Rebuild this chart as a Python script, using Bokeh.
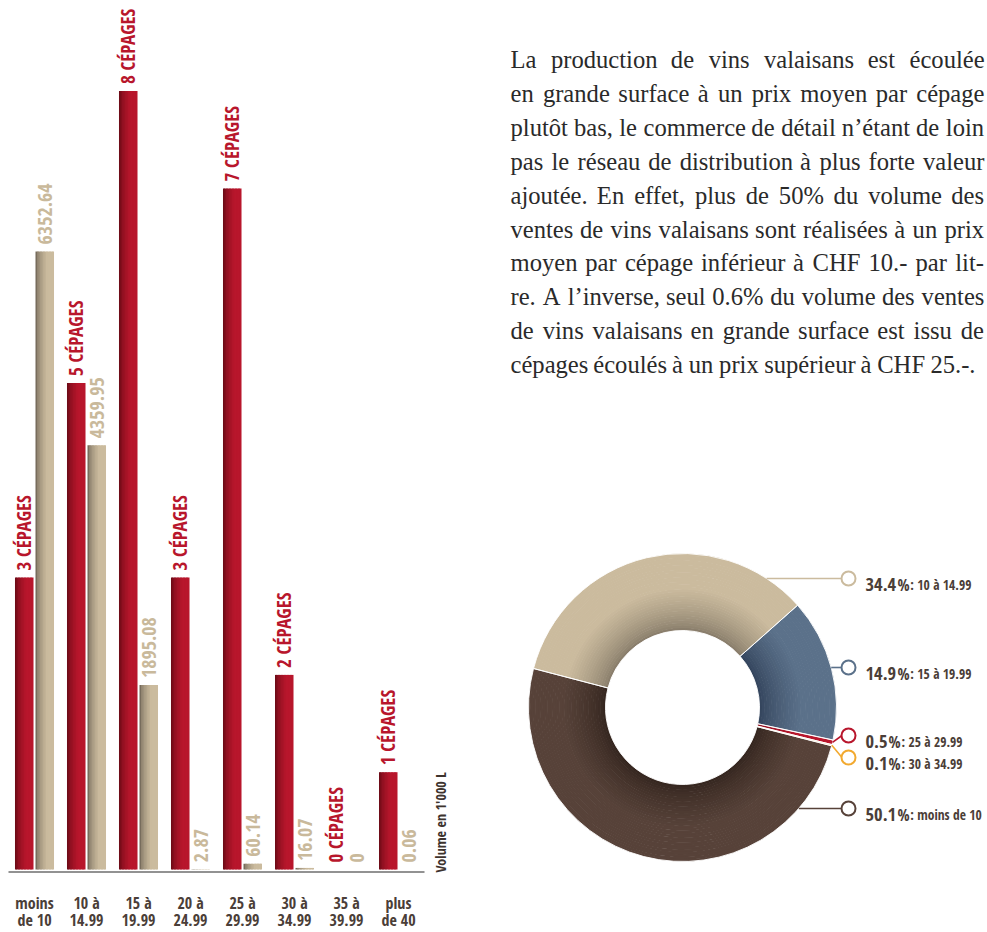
import math
from bokeh.plotting import figure
from bokeh.models import Range1d, ColumnDataSource
from bokeh.core.properties import value
from bokeh.embed import file_html
from bokeh.resources import INLINE

# ---------------- data ----------------
categories = ["moins de 10", "10 à 14.99", "15 à 19.99", "20 à 24.99",
              "25 à 29.99", "30 à 34.99", "35 à 39.99", "plus de 40"]
tick_labels = ["moins\nde 10", "10 à\n14.99", "15 à\n19.99", "20 à\n24.99",
               "25 à\n29.99", "30 à\n34.99", "35 à\n39.99", "plus\nde 40"]
cepages = [3, 5, 8, 3, 7, 2, 0, 1]
volume = [6352.64, 4359.95, 1895.08, 2.87, 60.14, 16.07, 0, 0.06]
volume_unit_label = "Volume en 1'000 L"
paragraph_lines = [
    "La production de vins valaisans est écoulée",
    "en grande surface à un prix moyen par cépage",
    "plutôt bas, le commerce de détail n’étant de loin",
    "pas le réseau de distribution à plus forte valeur",
    "ajoutée. En effet, plus de 50% du volume des",
    "ventes de vins valaisans sont réalisées à un prix",
    "moyen par cépage inférieur à CHF 10.- par lit-",
    "re. A l’inverse, seul 0.6% du volume des ventes",
    "de vins valaisans en grande surface est issu de",
    "cépages écoulés à un prix supérieur à CHF 25.-.",
]

# ---------------- styles / layout (page pixel coordinates) ----------------
W, H = 986, 931
COND = "Open Sans Condensed"
SERIF = "Liberation Serif"
RED, RED_DARK = "#b8162c", "#6e0b17"
TAN, TAN_DARK = "#cbbb9e", "#776c5c"
TAN_TEXT = "#c9b99b"
DARK_TEXT = "#4b3e38"
pie_colors = ["#574239", "#cbbb9e", "#5b718a", "#9a8c7c", "#b8162c", "#f2a92f", "#cccccc", "#2b2b2b"]
pie_inner = ["#33251e", "#847967", "#32425a", "#6a5f52", "#8a1020", "#c88420", "#aaaaaa", "#111111"]
pie_label_y = {"10 à 14.99": 578, "15 à 19.99": 667, "25 à 29.99": 735,
               "30 à 34.99": 757, "moins de 10": 808}

GROUP_X0, GROUP_DX = 34.0, 52.0
BASE_Y, PX_PER_CEP = 869.0, 97.3
BAR_W = 18.0 / GROUP_DX
OFF = 10.25 / GROUP_DX
PIE_CX, PIE_CY, R_OUT, R_IN = 682.0, 707.0, 154.0, 77.0
PIE_START_DEG = 345.6
MARK_X, LABEL_X = 848.0, 865.0
NUM_FS, PCT_FS, RANGE_FS = 18.5, 16, 13.5


def fy(page_y):
    return H - page_y


def hex2rgb(h):
    h = h.lstrip("#")
    return [int(h[i:i + 2], 16) for i in (0, 2, 4)]


def mix(a, b, t):
    ra, rb = hex2rgb(a), hex2rgb(b)
    return "#%02x%02x%02x" % tuple(int(round(x + (y - x) * t)) for x, y in zip(ra, rb))


p = figure(width=W, height=H, x_range=Range1d(0, W), y_range=Range1d(0, H),
           output_backend="svg", toolbar_location=None, min_border=0,
           x_axis_type=None, y_axis_type=None)
p.grid.visible = False
p.outline_line_color = None
p.background_fill_color = "white"
p.border_fill_color = "white"

p.extra_x_ranges["bars"] = Range1d((0 - GROUP_X0) / GROUP_DX, (W - GROUP_X0) / GROUP_DX)
cs, ce = -(H - BASE_Y) / PX_PER_CEP, BASE_Y / PX_PER_CEP
p.extra_y_ranges["count"] = Range1d(cs, ce)
p.extra_y_ranges["vol"] = Range1d(cs * 1000, ce * 1000)
p.extra_x_ranges["pie"] = Range1d(0 - PIE_CX, W - PIE_CX)
p.extra_y_ranges["pie"] = Range1d(-(H - PIE_CY), PIE_CY)

NSTRIP = 12


def shaded_bars(values, offset, c_dark, c_light, yname):
    xs, tops, cols = [], [], []
    for i, v in enumerate(values):
        if v <= 0:
            continue
        for k in range(NSTRIP):
            t = k / (NSTRIP - 1)
            xs.append(i + offset - BAR_W / 2 + (k + 0.5) * BAR_W / NSTRIP)
            tops.append(v)
            cols.append(mix(c_dark, c_light, min(1.0, t / 0.65) ** 0.6))
    src = ColumnDataSource(dict(x=xs, top=tops, color=cols))
    p.vbar(x="x", top="top", bottom=0, width=BAR_W / NSTRIP * 1.35, fill_color="color",
           line_color=None, source=src, x_range_name="bars", y_range_name=yname)


shaded_bars(cepages, -OFF, RED_DARK, RED, "count")
shaded_bars(volume, OFF, TAN_DARK, TAN, "vol")

idx = list(range(len(categories)))
p.text(x=[i - OFF for i in idx], y=cepages, text=[f"{n} CÉPAGES" for n in cepages],
       angle=math.pi / 2, text_align="left", text_baseline="middle", y_offset=-7,
       text_font=value(COND), text_font_style="bold", text_font_size="19px",
       text_color=RED, x_range_name="bars", y_range_name="count")
p.text(x=[i + OFF for i in idx], y=volume, text=[f"{v:g}" for v in volume],
       angle=math.pi / 2, text_align="left", text_baseline="middle", y_offset=-7,
       text_font=value(COND), text_font_size="20px",
       text_color=TAN_TEXT, x_range_name="bars", y_range_name="vol")

p.segment(x0=[8], y0=[fy(871.5)], x1=[424], y1=[fy(871.5)], line_color="#6e6e6e", line_width=1.5)

line1 = [t.split("\n")[0] for t in tick_labels]
line2 = [t.split("\n")[1] for t in tick_labels]
for txt, yy in ((line1, 902.0), (line2, 919.5)):
    p.text(x=idx, y=[fy(yy)] * len(idx), text=txt, text_align="center",
           text_baseline="middle", text_font=value(COND), text_font_style="bold",
           text_font_size="16px", text_color=DARK_TEXT, x_range_name="bars")

p.text(x=[440], y=[fy(872)], text=[volume_unit_label], angle=math.pi / 2,
       text_align="left", text_baseline="middle", text_font=value(COND),
       text_font_style="bold", text_font_size="14px", text_color="#3d332e")

# ---------------- donut ----------------
total = sum(volume)
shares = [v / total for v in volume]
cum = 0.0
slices = []
for j, s in enumerate(shares):
    a0 = math.radians(PIE_START_DEG) - cum * 2 * math.pi
    a1 = a0 - s * 2 * math.pi
    cum += s
    if s > 0:
        slices.append((j, a1, a0))

NR = 32
dr = (R_OUT - R_IN) / NR
rx, ry, rin, rout, rs, re, rc = [], [], [], [], [], [], []
for j, a1, a0 in slices:
    for m in range(NR):
        t = (m + 0.5) / NR
        rin.append(R_IN + m * dr)
        rout.append(min(R_OUT, R_IN + (m + 1) * dr + 0.6))
        rs.append(a1)
        re.append(a0)
        rc.append(mix(pie_inner[j], pie_colors[j], min(1.0, t / 0.55) ** 0.7))
        rx.append(0)
        ry.append(0)
ring_src = ColumnDataSource(dict(x=rx, y=ry, inner=rin, outer=rout, start=rs, end=re, color=rc))
p.annular_wedge(x="x", y="y", inner_radius="inner", outer_radius="outer",
                start_angle="start", end_angle="end", fill_color="color",
                line_color=None, source=ring_src, x_range_name="pie", y_range_name="pie")

vis = [(j, a1, a0) for j, a1, a0 in slices if shares[j] >= 0.0005]
p.annular_wedge(x=0, y=0, inner_radius=R_IN, outer_radius=R_OUT,
                start_angle=[a1 for _, a1, _ in vis], end_angle=[a0 for _, _, a0 in vis],
                fill_color=None, line_color="white", line_width=0.9,
                x_range_name="pie", y_range_name="pie")

lx0, ly0, lx1, ly1, lcol = [], [], [], [], []
mx, my, mcol = [], [], []
num_x, num_y, num_t, pc_x, rg_x, rg_t = [], [], [], [], [], []


def cond_w(s, size):
    wd = {".": 0.23, "%": 0.62}
    return sum(wd.get(c, 0.48) for c in s) * size


for j, a1, a0 in slices:
    cat = categories[j]
    if cat not in pie_label_y:
        continue
    dy = PIE_CY - pie_label_y[cat]
    ang = math.asin(max(-1, min(1, dy / R_OUT)))
    if a1 <= ang <= a0 or a1 <= ang - 2 * math.pi <= a0 or a1 <= ang + 2 * math.pi <= a0:
        sx, sy = R_OUT * math.cos(ang), dy
    else:
        mid = (a0 + a1) / 2
        sx, sy = R_OUT * math.cos(mid), R_OUT * math.sin(mid)
    lx0.append(sx); ly0.append(sy)
    lx1.append(MARK_X - PIE_CX - 6.5); ly1.append(dy)
    lcol.append(pie_colors[j])
    mx.append(MARK_X - PIE_CX); my.append(dy); mcol.append(pie_colors[j])
    nt = f"{shares[j] * 100:.1f}"
    num_t.append(nt)
    num_x.append(LABEL_X - PIE_CX)
    num_y.append(dy - 6)
    xp = LABEL_X - PIE_CX + cond_w(nt, NUM_FS) + 1
    pc_x.append(xp)
    rg_x.append(xp + cond_w("%", PCT_FS) + 3)
    rg_t.append(": " + cat)

p.segment(x0=lx0, y0=ly0, x1=lx1, y1=ly1, line_color=lcol, line_width=1.6,
          x_range_name="pie", y_range_name="pie")
p.scatter(x=mx, y=my, marker="circle", size=14, fill_color="white", line_color=mcol,
          line_width=2, x_range_name="pie", y_range_name="pie")
p.text(x=num_x, y=num_y, text=num_t, text_baseline="alphabetic", text_font=value(COND),
       text_font_style="bold", text_font_size=f"{NUM_FS}px", text_color=DARK_TEXT,
       x_range_name="pie", y_range_name="pie")
p.text(x=pc_x, y=num_y, text=["%"] * len(pc_x), text_baseline="alphabetic", text_font=value(COND),
       text_font_size=f"{PCT_FS}px", text_color=DARK_TEXT, x_range_name="pie", y_range_name="pie")
p.text(x=rg_x, y=num_y, text=rg_t, text_baseline="alphabetic", text_font=value(COND),
       text_font_style="bold", text_font_size=f"{RANGE_FS}px", text_color=DARK_TEXT,
       x_range_name="pie", y_range_name="pie")

# ---------------- paragraph (justified) ----------------
TIMES = {" ": 250, "a": 444, "b": 500, "c": 444, "d": 500, "e": 444, "f": 333, "g": 500,
         "h": 500, "i": 278, "j": 278, "k": 500, "l": 278, "m": 778, "n": 500, "o": 500,
         "p": 500, "q": 500, "r": 333, "s": 389, "t": 278, "u": 500, "v": 500, "w": 722,
         "x": 500, "y": 500, "z": 444, "A": 722, "C": 667, "E": 611, "F": 556, "H": 722,
         "L": 611, ",": 250, ".": 250, "-": 333, "%": 833, "’": 333,
         "é": 444, "è": 444, "à": 444, "ô": 500, "û": 500}
PARA_X, PARA_Y0, PARA_DY, PARA_W, PARA_FS = 510.0, 59.0, 33.9, 473.0, 24.6
METRIC_FIX = 0.985


def tw(s):
    return sum(TIMES.get(c, 500) for c in s) / 1000.0 * PARA_FS * METRIC_FIX


wx, wy, wt = [], [], []
for li, line in enumerate(paragraph_lines):
    words = line.split(" ")
    widths = [tw(w) for w in words]
    if li < len(paragraph_lines) - 1 and len(words) > 1:
        gap = (PARA_W - sum(widths)) / (len(words) - 1)
    else:
        gap = tw(" ")
    x = PARA_X
    for w, wd in zip(words, widths):
        wx.append(x); wy.append(fy(PARA_Y0 + li * PARA_DY)); wt.append(w)
        x += wd + gap
p.text(x=wx, y=wy, text=wt, text_baseline="alphabetic", text_align="left",
       text_font=value(SERIF), text_font_size=f"{PARA_FS}px", text_color="#2a2a2a")

open("out.html", "w").write(file_html(p, INLINE))
